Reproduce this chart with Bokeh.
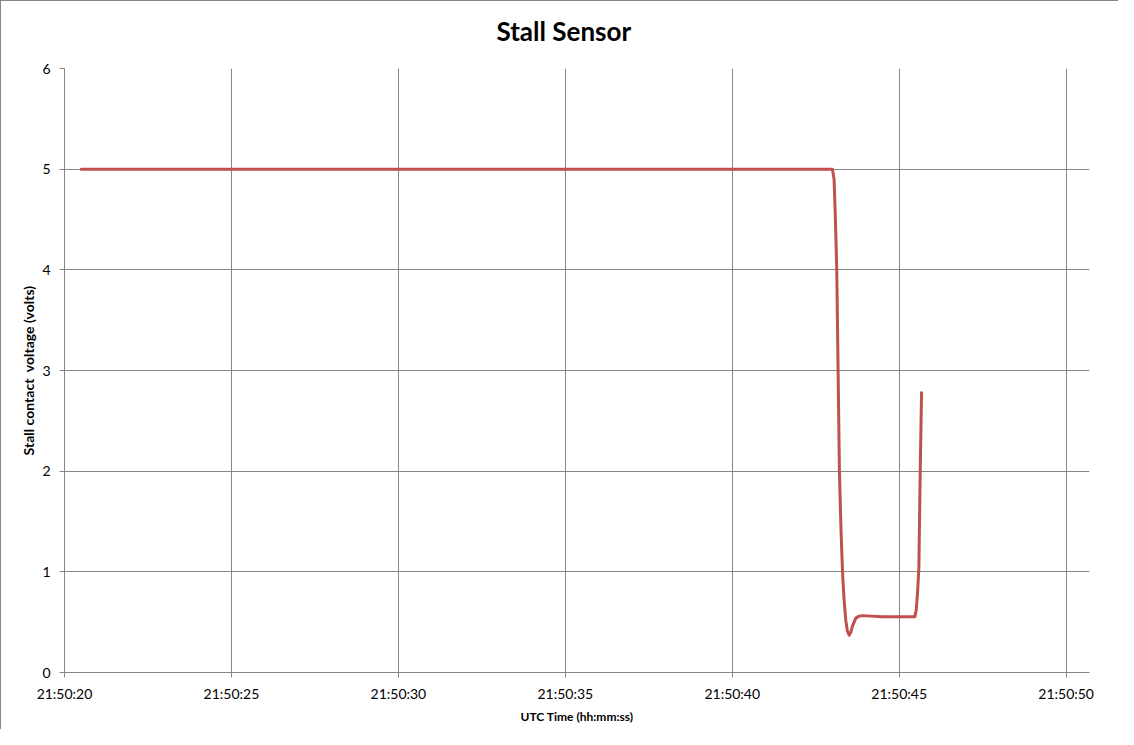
import pandas as pd
from bokeh.plotting import figure
from bokeh.models import Range1d, FixedTicker, DatetimeTickFormatter, ColumnDataSource, Title
from bokeh.embed import file_html
from bokeh.resources import INLINE

# ---- data ----
date = "2012-01-01 "
times = ["21:50:20.50", "21:50:43.00", "21:50:43.05", "21:50:43.09", "21:50:43.13",
         "21:50:43.17", "21:50:43.21", "21:50:43.25", "21:50:43.28", "21:50:43.31",
         "21:50:43.35", "21:50:43.40", "21:50:43.45", "21:50:43.50", "21:50:43.55",
         "21:50:43.60", "21:50:43.70", "21:50:43.80", "21:50:43.90", "21:50:44.50",
         "21:50:45.47", "21:50:45.51", "21:50:45.55", "21:50:45.59", "21:50:45.63",
         "21:50:45.67"]
volts = [5.0, 5.0, 4.9, 4.5, 4.0,
         3.0, 2.0, 1.5, 1.2, 0.95,
         0.72, 0.52, 0.41, 0.37, 0.40,
         0.46, 0.54, 0.56, 0.565, 0.555,
         0.555, 0.62, 0.79, 1.05, 2.0,
         2.78]
x_tick_labels = ["21:50:20", "21:50:25", "21:50:30", "21:50:35", "21:50:40", "21:50:45", "21:50:50"]
y_ticks = [0, 1, 2, 3, 4, 5, 6]
x_end = "21:50:50.70"

title_text = "Stall Sensor"
x_label = "UTC Time (hh:mm:ss)"
y_label = "Stall contact\u00a0 voltage (volts)"

# ---- build ----
x_dt = pd.to_datetime([date + t for t in times])
tick_dt = pd.to_datetime([date + t for t in x_tick_labels])
tick_ms = [int(v) // 10**6 for v in tick_dt.astype("int64")]

src = ColumnDataSource(dict(t=x_dt, v=volts))

GRAY = "#868686"
FONT = "Lato"

p = figure(width=1118, height=729, output_backend="svg", toolbar_location=None,
           x_axis_type="datetime",
           x_range=Range1d(tick_dt[0], pd.to_datetime(date + x_end)),
           y_range=Range1d(0, 6),
           min_border_left=63, min_border_right=30, min_border_top=66, min_border_bottom=58)

p.title.text = title_text
p.title.text_font = FONT
p.title.text_font_size = "26px"
p.title.text_font_style = "bold"
p.title.text_color = "#000000"
p.title.align = "left"
p.title.vertical_align = "top"
p.title.offset = 432
p.title.standoff = 26

# thin spacer between the title and the plot area
p.add_layout(Title(text=" ", text_font_size="2px", standoff=3), "above")

p.outline_line_color = None
p.background_fill_color = "white"
p.border_fill_color = "white"

p.line("t", "v", source=src, line_color="#C0504D", line_width=3,
       line_join="round", line_cap="round")

xa = p.xaxis[0]
xa.ticker = FixedTicker(ticks=tick_ms)
fmt = "%H:%M:%S"
xa.formatter = DatetimeTickFormatter(milliseconds=fmt, seconds=fmt, minsec=fmt,
                                     minutes=fmt, hourmin=fmt, hours=fmt,
                                     days=fmt, months=fmt, years=fmt)
ya = p.yaxis[0]
ya.ticker = FixedTicker(ticks=y_ticks)

for ax in (xa, ya):
    ax.axis_line_color = GRAY
    ax.major_tick_line_color = GRAY
    ax.major_tick_out = 5
    ax.major_tick_in = 0
    ax.minor_tick_line_color = None
    ax.major_label_text_font = FONT
    ax.major_label_text_font_size = "14px"
    ax.major_label_text_color = "#000000"
    ax.axis_label_text_font = FONT
    ax.axis_label_text_font_style = "bold"
    ax.axis_label_text_color = "#000000"

xa.axis_label = x_label
xa.axis_label_text_font_size = "12px"
xa.major_label_standoff = 7
xa.axis_label_standoff = 4
ya.axis_label = y_label
ya.axis_label_text_font_size = "14px"
ya.major_label_standoff = 9
ya.axis_label_standoff = 2

p.xgrid.ticker = xa.ticker
p.ygrid.ticker = ya.ticker
for g in (p.xgrid[0], p.ygrid[0]):
    g.grid_line_color = GRAY
    g.grid_line_width = 1

p.styles = {"border-left": "1px solid #868686", "border-top": "1px solid #868686"}

open("out.html", "w").write(file_html(p, INLINE))
